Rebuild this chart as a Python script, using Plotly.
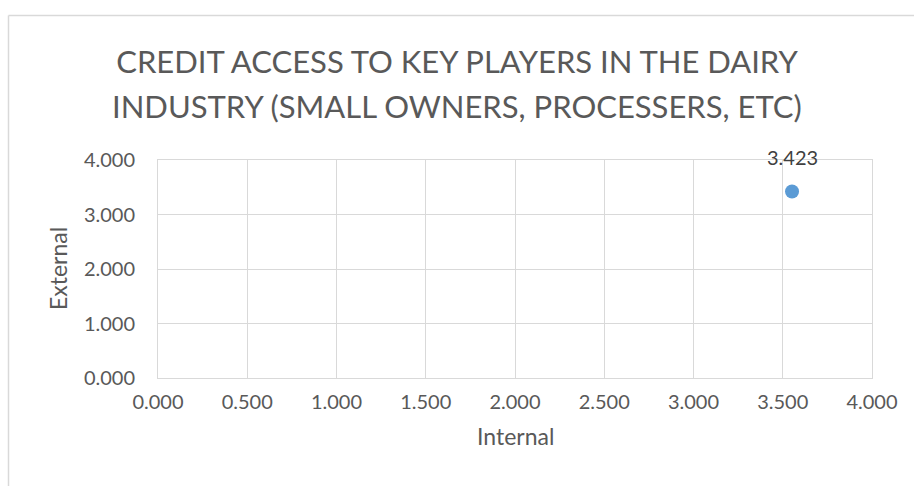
import plotly.graph_objects as go

# Data
internal = [3.552]
external = [3.423]
labels = ["3.423"]
title_line1 = "CREDIT ACCESS TO KEY PLAYERS IN THE DAIRY"
title_line2 = "INDUSTRY (SMALL OWNERS, PROCESSERS, ETC)"
x_title = "Internal"
y_title = "External"

FONT = "Lato"
TXT = "#595959"
GRID = "#d9d9d9"

fig = go.Figure()
fig.add_trace(go.Scatter(
    x=internal, y=external, mode="markers",
    marker=dict(size=14, color="#5b9bd5"),
    cliponaxis=False, showlegend=False,
))
for xv, yv, lab in zip(internal, external, labels):
    fig.add_annotation(x=xv, y=yv, xref="x", yref="y", text=lab, showarrow=False,
                       yshift=34, font=dict(family=FONT, size=20, color="#404040"))

L, R, T, B = 158, 42, 160, 108
W, H = 914, 486
pw, ph = W - L - R, H - T - B

def py(pix):
    return (H - B - pix) / ph

def px(pix):
    return (pix - L) / pw

fig.update_layout(
    width=W, height=H,
    margin=dict(l=L, r=R, t=T, b=B, autoexpand=False),
    paper_bgcolor="white", plot_bgcolor="white",
    font=dict(family=FONT, color=TXT),
    title=dict(text=title_line1, x=0.5, xanchor="center", y=1 - 62 / H, yanchor="middle",
               font=dict(family=FONT, size=31, color=TXT)),
    xaxis=dict(range=[0, 4], dtick=0.5, tick0=0, tickformat=".3f", showgrid=True,
               gridcolor=GRID, gridwidth=1, showline=True, linecolor=GRID, mirror=True,
               zeroline=False, ticks="", ticklabelstandoff=6,
               tickfont=dict(family=FONT, size=20, color=TXT),
               automargin=False, fixedrange=True),
    yaxis=dict(range=[0, 4], dtick=1, tick0=0, tickformat=".3f", showgrid=True,
               gridcolor=GRID, gridwidth=1, showline=True, linecolor=GRID, mirror=True,
               zeroline=False, ticks="", ticklabelstandoff=18,
               tickfont=dict(family=FONT, size=20, color=TXT),
               automargin=False, fixedrange=True),
)

# second title line
fig.add_annotation(xref="paper", yref="paper", x=px(457), y=py(106), text=title_line2,
                   showarrow=False, xanchor="center", yanchor="middle",
                   font=dict(family=FONT, size=31, color=TXT))
# axis titles
fig.add_annotation(xref="paper", yref="paper", x=0.5, y=py(436), text=x_title,
                   showarrow=False, xanchor="center", yanchor="middle",
                   font=dict(family=FONT, size=23, color=TXT))
fig.add_annotation(xref="paper", yref="paper", x=px(58), y=0.5, text=y_title, textangle=-90,
                   showarrow=False, xanchor="center", yanchor="middle",
                   font=dict(family=FONT, size=23, color=TXT))

# chart-area border (light gray), extends beyond the window on right/bottom
x0 = px(8.5)
y0 = py(15.5)
fig.add_shape(type="line", xref="paper", yref="paper", x0=x0, y0=y0, x1=px(W + 5), y1=y0,
              line=dict(color=GRID, width=1.5))
fig.add_shape(type="line", xref="paper", yref="paper", x0=x0, y0=y0, x1=x0, y1=py(H + 5),
              line=dict(color=GRID, width=1.5))

fig.write_html("out.html")
